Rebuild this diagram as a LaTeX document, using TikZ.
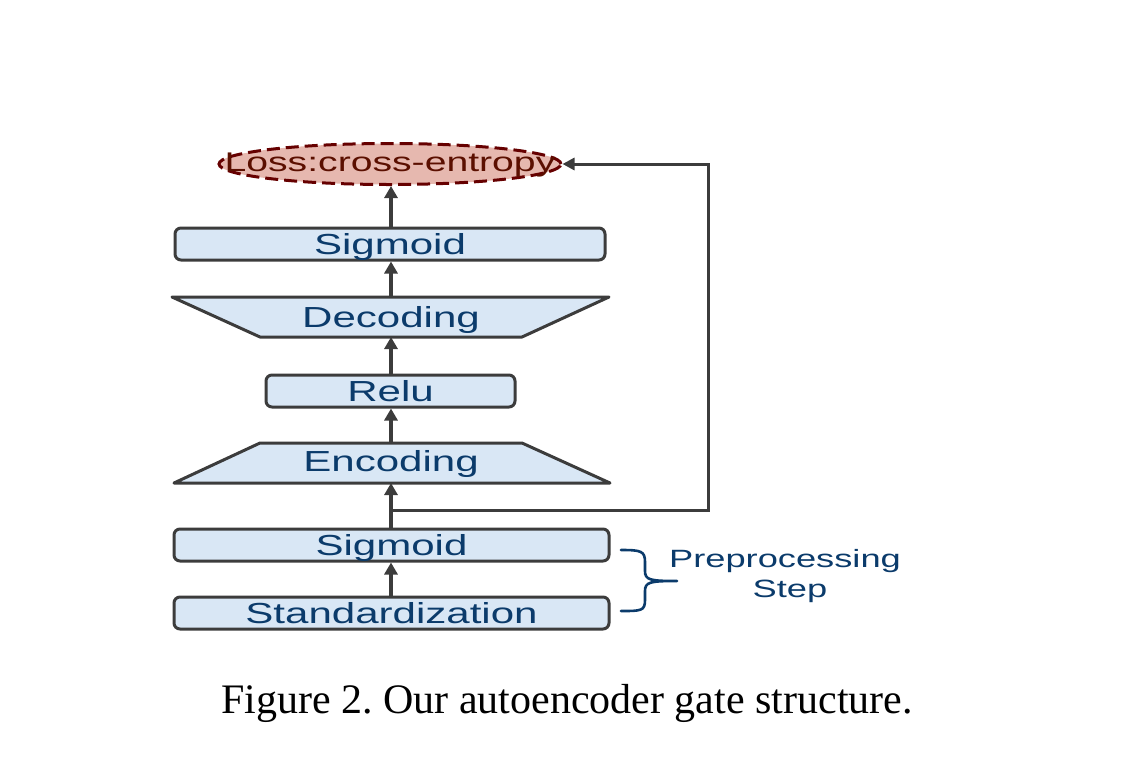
\documentclass[tikz,border=0pt]{standalone}
\usepackage{fontspec}
\newfontfamily\diagfont[FakeStretch=1.45]{Liberation Sans}
\newfontfamily\capfont{Liberation Serif}
\usetikzlibrary{arrows.meta,shapes.geometric}
\definecolor{boxfill}{HTML}{D9E7F5}
\definecolor{edgegray}{HTML}{3C3C3C}
\definecolor{txtblue}{HTML}{0B3B6B}
\definecolor{lossfill}{HTML}{E6B8AF}
\definecolor{lossedge}{HTML}{660000}
\definecolor{losstext}{HTML}{5B0F00}
\begin{document}
\begin{tikzpicture}[x=1pt,y=-1pt,
  box/.style={draw=edgegray, fill=boxfill, line width=3pt, rounded corners=6pt,
    inner sep=0pt, text=txtblue, text height=21pt, text depth=0pt,
    font=\diagfont\fontsize{29}{30}\selectfont},
  trap/.style={draw=edgegray, fill=boxfill, line width=3pt, line join=round},
  lbl/.style={inner sep=0pt, text=txtblue, text height=21pt, text depth=0pt,
    font=\diagfont\fontsize{29}{30}\selectfont},
  arr/.style={draw=edgegray, line width=3.6pt, -{Triangle[length=12pt,width=13pt]}},
  fb/.style={draw=edgegray, line width=3pt, -{Triangle[length=12pt,width=12pt]}},
  note/.style={inner sep=0pt, text=txtblue, font=\diagfont\fontsize{25}{27}\selectfont}]
\useasboundingbox (0,0) rectangle (1128,764);

% loss ellipse
\node[ellipse, draw=lossedge, fill=lossfill, line width=3pt, dash pattern=on 13pt off 6pt,
      minimum width=342pt, minimum height=41pt, inner sep=0pt, text=losstext,
      font=\diagfont\fontsize{27}{28}\selectfont] (loss) at (390,164)
      {\makebox[0pt][c]{\raisebox{-7.5pt}[0pt][0pt]{Loss:cross-entropy}}};

% boxes
\node[box, minimum width=430pt, minimum height=32pt] (sig2) at (390,244) {Sigmoid};
\node[box, minimum width=249pt, minimum height=32pt] (relu) at (390.5,391) {Relu};
\node[box, minimum width=435pt, minimum height=32pt] (sig1) at (391.5,545) {Sigmoid};
\node[box, minimum width=435pt, minimum height=32pt] (std) at (391.5,613) {Standardization};

% decoding trapezoid
\draw[trap] (172,297) -- (609,297) -- (522,337) -- (260,337) -- cycle;
\node[lbl] (dec) at (391,317) {Decoding};
\coordinate (dectop) at (391,297);
\coordinate (decbot) at (391,337);

% encoding trapezoid
\draw[trap] (260,443) -- (522,443) -- (610,483) -- (174,483) -- cycle;
\node[lbl] (enc) at (391,461) {Encoding};
\coordinate (enctop) at (391,443);
\coordinate (encbot) at (391,483);

% arrows
\draw[arr] (std.north -| 391,0) -- (sig1.south -| 391,0);
\draw[arr] (sig1.north -| 391,0) -- (encbot);
\draw[arr] (enctop) -- (relu.south -| 391,0);
\draw[arr] (relu.north -| 391,0) -- (decbot);
\draw[arr] (dectop) -- (sig2.south -| 391,0);
\draw[arr] (sig2.north -| 391,0) -- (loss.south -| 391,0);

% feedback
\coordinate (split) at (391,510);
\coordinate (fbA) at (708,510);
\coordinate (fbB) at (708,164);
\draw[fb, line join=miter] (split) -- (fbA) -- (fbB) -- (loss.east);

% brace
\draw[txtblue, line width=2.6pt, line cap=round]
  (621,550) .. controls (641,550) and (645,551) .. (645,562) -- (645,571)
  .. controls (645,580) and (650,581) .. (677,581)
  (677,581) .. controls (650,581) and (645,582) .. (645,591) -- (645,600)
  .. controls (645,611) and (641,611) .. (621,611);
\coordinate (bracetip) at (677,581);
\node[note] (pre) at (785,561) {Preprocessing};
\node[note] (stp) at (790,591) {Step};

% caption
\node[inner sep=0pt, font=\capfont\fontsize{42}{44}\selectfont] (cap) at (567,703)
  {\frenchspacing Figure 2. Our autoencoder gate structure.};
\end{tikzpicture}
\end{document}
